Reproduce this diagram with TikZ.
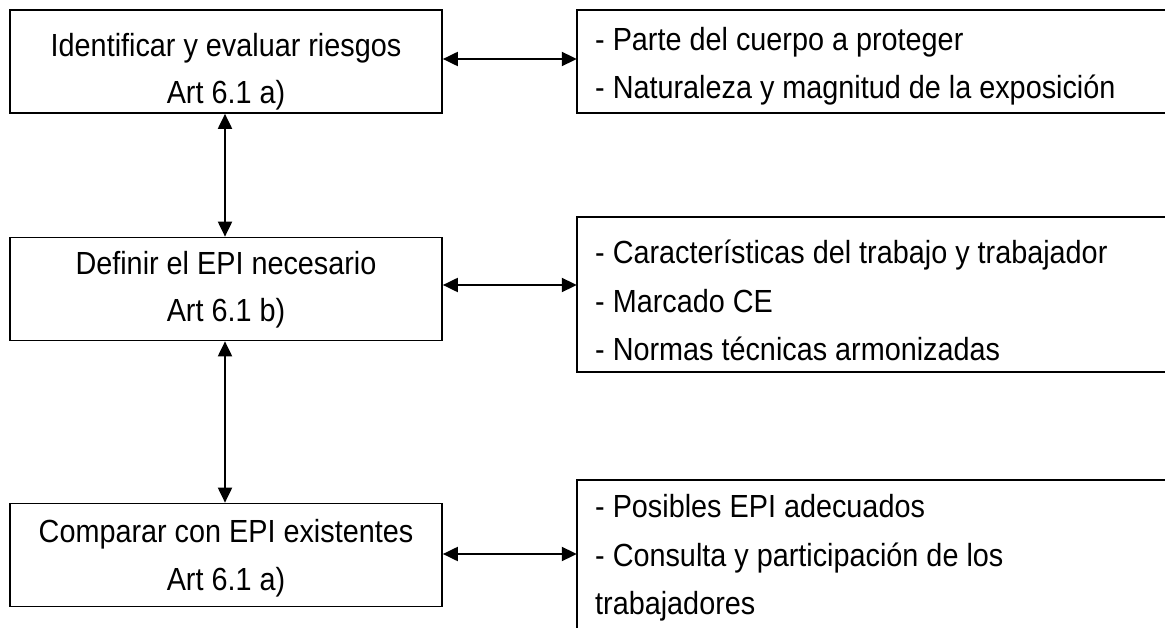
\documentclass[tikz,border=0pt]{standalone}
\usepackage{fontspec}
\setmainfont{Liberation Sans}[FakeStretch=0.9]
\usetikzlibrary{arrows.meta}
\tikzset{
  lbox/.style={draw, line width=1.7pt, rectangle, inner sep=0pt, minimum width=432pt, minimum height=103pt},
  rbox/.style={rectangle, inner sep=0pt},
  openline/.style={line width=1.7pt},
  txt/.style={inner sep=0pt, anchor=base, font=\fontsize{32}{38}\selectfont},
  ltxt/.style={inner sep=0pt, anchor=base west, font=\fontsize{32}{38}\selectfont},
  dbl/.style={line width=2pt, {Triangle[length=15pt,width=14pt]}-{Triangle[length=15pt,width=14pt]}}
}
\begin{document}
\begin{tikzpicture}[x=1pt,y=-1pt]
\clip (0,0) rectangle (1165,628);
\fill[white] (0,0) rectangle (1165,628);
% left boxes
\node[lbox] (b1) at (226,61.5) {};
\node[lbox] (b2) at (226,289) {};
\node[lbox] (b3) at (226,555) {};
% right (open) boxes
\node[rbox, minimum width=600pt, minimum height=103pt] (r1) at (877,61.5) {};
\node[rbox, minimum width=600pt, minimum height=155pt] (r2) at (877,294.5) {};
\node[rbox, minimum width=600pt, minimum height=170pt] (r3) at (877,565) {};
\draw[openline] (r1.north east) -- (r1.north west) -- (r1.south west) -- (r1.south east);
\draw[openline] (r2.north east) -- (r2.north west) -- (r2.south west) -- (r2.south east);
\draw[openline] (r3.north east) -- (r3.north west) -- (r3.south west);
% texts left
\node[txt] (t1a) at (226,57) {Identificar y evaluar riesgos};
\node[txt] (t1b) at (226,104) {Art 6.1 a)};
\node[txt] (t2a) at (226,275) {Definir el EPI necesario};
\node[txt] (t2b) at (226,322) {Art 6.1 b)};
\node[txt] (t3a) at (226,542) {Comparar con EPI existentes};
\node[txt] (t3b) at (226,590) {Art 6.1 a)};
% texts right
\node[ltxt] (s1a) at (595,51) {- Parte del cuerpo a proteger};
\node[ltxt] (s1b) at (595,99) {- Naturaleza y magnitud de la exposición};
\node[ltxt] (s2a) at (595,264) {- Características del trabajo y trabajador};
\node[ltxt] (s2b) at (595,313) {- Marcado CE};
\node[ltxt] (s2c) at (595,361) {- Normas técnicas armonizadas};
\node[ltxt] (s3a) at (595,517) {- Posibles EPI adecuados};
\node[ltxt] (s3b) at (595,566) {- Consulta y participación de los};
\node[ltxt] (s3c) at (595,614) {trabajadores};
% connectors
\draw[dbl] ([yshift=2.5pt]b1.east) -- ([yshift=2.5pt]b1.east -| r1.west);
\draw[dbl] ([yshift=4pt]b2.east) -- ([yshift=4pt]b2.east -| r2.west);
\draw[dbl] ([yshift=1pt]b3.east) -- ([yshift=1pt]b3.east -| r3.west);
\draw[dbl] ([xshift=-1pt]b1.south) -- ([xshift=-1pt]b2.north);
\draw[dbl] ([xshift=-1pt]b2.south) -- ([xshift=-1pt]b3.north);
\end{tikzpicture}
\end{document}
